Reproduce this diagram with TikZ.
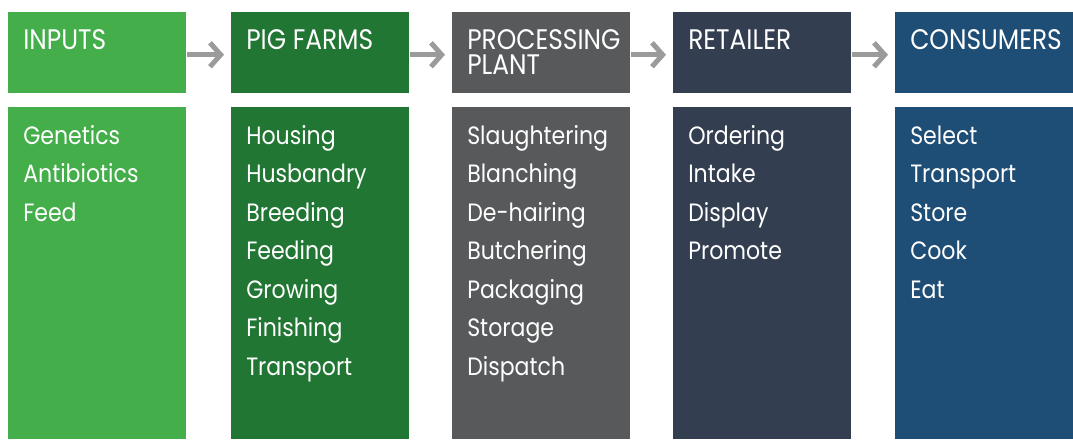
\documentclass[tikz,border=0pt]{standalone}
\usepackage{fontspec}
\setmainfont{Poppins}[FakeStretch=0.88]
\usetikzlibrary{arrows.meta}
\definecolor{cInputs}{RGB}{67,174,74}
\definecolor{cFarms}{RGB}{32,118,50}
\definecolor{cPlant}{RGB}{88,89,91}
\definecolor{cRetail}{RGB}{51,62,80}
\definecolor{cCons}{RGB}{30,77,117}
\definecolor{cArrow}{RGB}{155,155,155}
\begin{document}
\begin{tikzpicture}[x=0.75pt,y=-0.75pt,
  hdr/.style={fill=#1, draw=none, inner sep=0pt, anchor=north west, minimum width=133.5pt, minimum height=60.75pt},
  bdy/.style={fill=#1, draw=none, inner sep=0pt, anchor=north west, minimum width=133.5pt, minimum height=249pt},
  txt/.style={anchor=base west, inner sep=0pt, text=white, font=\fontsize{18.8}{22}\selectfont},
  htxt/.style={txt, font=\fontsize{21.2}{18.75}\selectfont},
  conn/.style={draw=cArrow, line width=3.75pt, shorten >=5.25pt, -{Straight Barb[length=8pt,width=18pt]}}
]
\useasboundingbox (0,0) rectangle (1073,439);
\fill[white] (0,0) rectangle (1073,439);
% columns
\foreach \i/\x/\c in {1/8/cInputs, 2/231/cFarms, 3/452/cPlant, 4/673/cRetail, 5/895/cCons}{
  \node[hdr=\c] (h\i) at (\x,12) {};
  \node[bdy=\c] (b\i) at (\x,107) {};
}
% header texts
\node[htxt] (t1) at (23,49) {INPUTS};
\node[htxt] (t2) at (246,49) {PIG FARMS};
\node[htxt, align=left] (t3) at (467,74) {PROCESSING\\PLANT};
\node[htxt] (t4) at (688,49) {RETAILER};
\node[htxt] (t5) at (910,49) {CONSUMERS};
% body texts
\foreach \j/\w in {0/Genetics,1/Antibiotics,2/Feed}{
  \node[txt] (l1-\j) at (23,144+38.5*\j) {\w};}
\foreach \j/\w in {0/Housing,1/Husbandry,2/Breeding,3/Feeding,4/Growing,5/Finishing,6/Transport}{
  \node[txt] (l2-\j) at (246,144+38.5*\j) {\w};}
\foreach \j/\w in {0/Slaughtering,1/Blanching,2/De-hairing,3/Butchering,4/Packaging,5/Storage,6/Dispatch}{
  \node[txt] (l3-\j) at (467,144+38.5*\j) {\w};}
\foreach \j/\w in {0/Ordering,1/Intake,2/Display,3/Promote}{
  \node[txt] (l4-\j) at (688,144+38.5*\j) {\w};}
\foreach \j/\w in {0/Select,1/Transport,2/Store,3/Cook,4/Eat}{
  \node[txt] (l5-\j) at (910,144+38.5*\j) {\w};}
% connectors
\foreach \a/\b in {1/2,2/3,3/4,4/5}{
  \draw[conn] ([yshift=-1.5pt]h\a.east) -- ([yshift=-1.5pt]h\b.west);
}
\end{tikzpicture}
\end{document}
